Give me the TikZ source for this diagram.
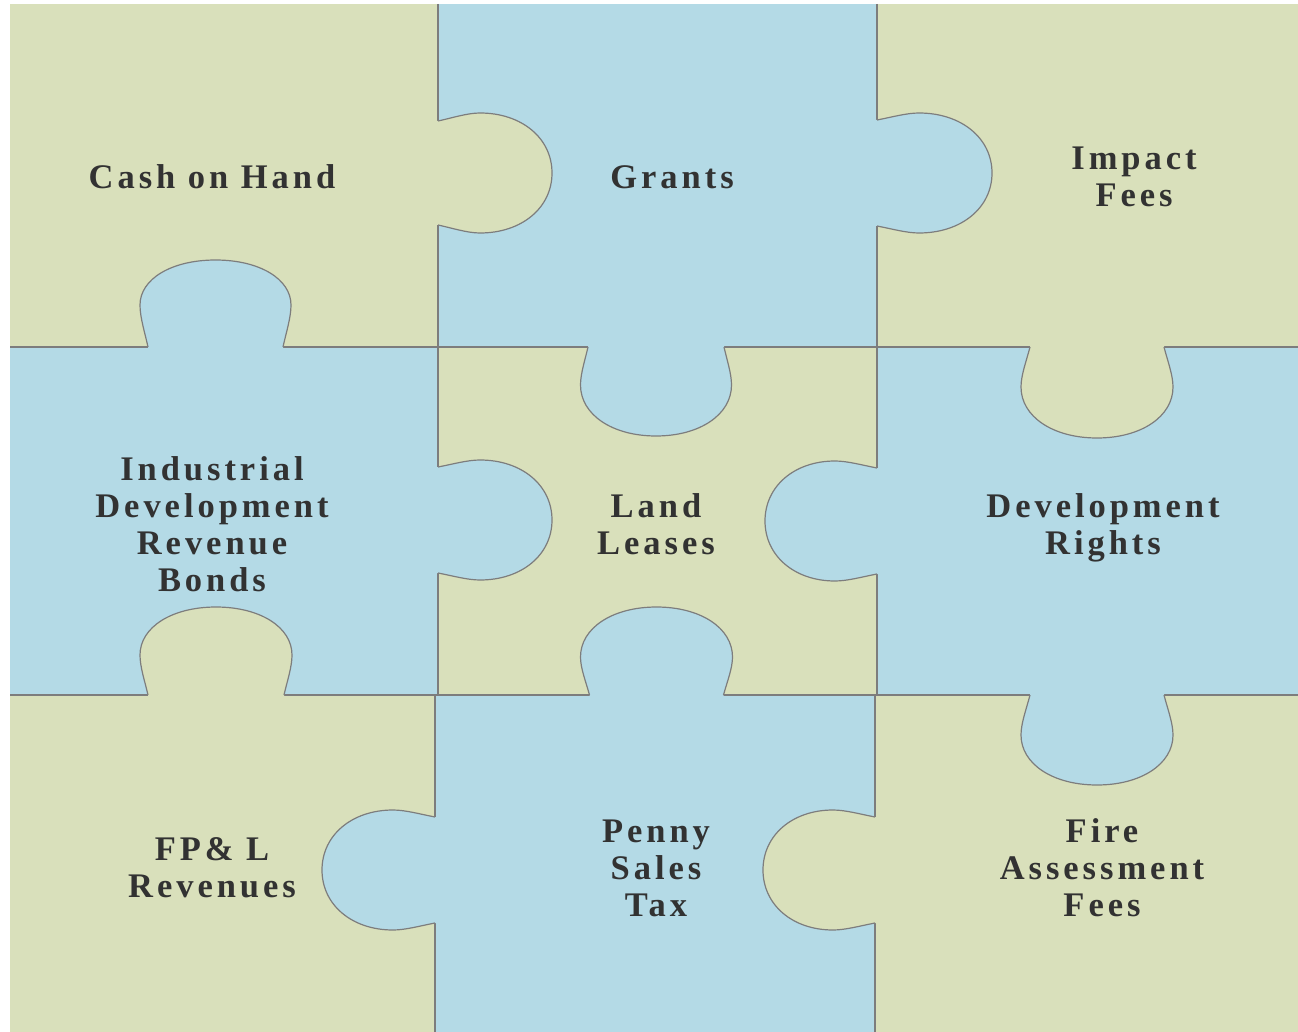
\documentclass[tikz,border=0pt]{standalone}
\usepackage{fontspec}
\newfontfamily\lblfont[LetterSpace=11.5]{Liberation Serif}
\definecolor{pzgreen}{RGB}{217,224,187}
\definecolor{pzblue}{RGB}{180,218,230}
\definecolor{pzedge}{RGB}{125,125,125}
\definecolor{pztext}{RGB}{50,50,50}
\tikzset{
  edge/.style={draw=pzedge,line width=1.2pt,line join=round},
  kright/.style={x={(0pt,-1pt)},y={(1pt,0pt)}},
  kleft/.style={x={(0pt,-1pt)},y={(-1pt,0pt)}},
  kdown/.style={x={(1pt,0pt)},y={(0pt,-1pt)}},
  kup/.style={x={(1pt,0pt)},y={(0pt,1pt)}},
  lbl/.style={anchor=base,inner sep=0pt,text=pztext,
    font=\lblfont\bfseries\fontsize{34.5}{37}\selectfont}
}
% #1 X, #2 Y (image px), #3 direction style, #4 neck half, #5 head half,
% #6 depth of widest point, #7 total depth, #8 fill colour
\newcommand{\knob}[8]{%
\begin{scope}[xshift=#1pt,yshift=-#2pt,#3]
\pgfmathsetmacro\kzn{#4}\pgfmathsetmacro\kzm{#5}%
\pgfmathsetmacro\kzk{#6}\pgfmathsetmacro\kzd{#7}%
\pgfmathsetmacro\kza{\kzn+0.4*(\kzm-\kzn)}%
\pgfmathsetmacro\kzb{0.35*\kzk}%
\pgfmathsetmacro\kzc{0.7*\kzk}%
\pgfmathsetmacro\kze{\kzk+0.58*(\kzd-\kzk)}%
\pgfmathsetmacro\kzf{0.58*\kzm}%
\def\kzpath{(-\kzn,0) .. controls (-\kza,\kzb) and (-\kzm,\kzc) .. (-\kzm,\kzk)
  .. controls (-\kzm,\kze) and (-\kzf,\kzd) .. (0,\kzd)
  .. controls (\kzf,\kzd) and (\kzm,\kze) .. (\kzm,\kzk)
  .. controls (\kzm,\kzc) and (\kza,\kzb) .. (\kzn,0)}%
\fill[#8] (-\kzn,-3) -- \kzpath -- (\kzn,-3) -- cycle;
\draw[edge] \kzpath;
\end{scope}}
\newcommand{\lines}[1]{\begin{tabular}[t]{@{}c@{}}#1\end{tabular}}
\begin{document}
\begin{tikzpicture}[x=1pt,y=-1pt]
\useasboundingbox (0,0) rectangle (1298,1032);
% cells
\fill[pzgreen] (10,4) rectangle (438,347);
\fill[pzblue] (438,4) rectangle (877,347);
\fill[pzgreen] (877,4) rectangle (1298,347);
\fill[pzblue] (10,347) rectangle (438,695);
\fill[pzgreen] (438,347) rectangle (877,695);
\fill[pzblue] (877,347) rectangle (1298,695);
\fill[pzgreen] (10,695) rectangle (435,1032);
\fill[pzblue] (435,695) rectangle (875,1032);
\fill[pzgreen] (875,695) rectangle (1298,1032);
% grid lines
\draw[edge] (10,347) -- (1298,347);
\draw[edge] (10,695) -- (1298,695);
\draw[edge] (438,4) -- (438,695);
\draw[edge] (877,4) -- (877,695);
\draw[edge] (435,695) -- (435,1032);
\draw[edge] (875,695) -- (875,1032);
% knobs
\knob{438}{173}{kright}{52}{60}{42}{114}{pzgreen}
\knob{877}{173}{kright}{53}{60}{42}{115}{pzblue}
\knob{215.5}{347}{kup}{67.5}{75.5}{42}{87}{pzblue}
\knob{656}{347}{kdown}{68}{75.5}{38}{89}{pzblue}
\knob{1097}{347}{kdown}{67}{76}{40}{91}{pzgreen}
\knob{438}{520}{kright}{53}{60}{42}{114}{pzblue}
\knob{877}{521}{kleft}{53}{60}{42}{112}{pzblue}
\knob{216}{695}{kup}{68}{76}{40}{88}{pzgreen}
\knob{656.5}{695}{kup}{67}{76}{38}{88}{pzblue}
\knob{1097}{695}{kdown}{67}{76}{40}{90}{pzblue}
\knob{435}{870}{kleft}{53}{60}{42}{113}{pzblue}
\knob{875}{870}{kleft}{53}{60}{42}{112}{pzgreen}
% labels
\node[lbl] (cash) at (212,189) {\lines{Cash on Hand}};
\node[lbl] (grants) at (672,189) {\lines{Grants}};
\node[lbl] (impact) at (1134,170) {\lines{Impact\\Fees}};
\node[lbl] (idrb) at (212,480) {\lines{Industrial\\Development\\Revenue\\Bonds}};
\node[lbl] (land) at (656,517) {\lines{Land\\Leases}};
\node[lbl] (devr) at (1103,517) {\lines{Development\\Rights}};
\node[lbl] (fpl) at (212,860) {\lines{FP\& L\\Revenues}};
\node[lbl] (penny) at (656,842) {\lines{Penny\\Sales\\Tax}};
\node[lbl] (fire) at (1102,842) {\lines{Fire\\Assessment\\Fees}};
\end{tikzpicture}
\end{document}
